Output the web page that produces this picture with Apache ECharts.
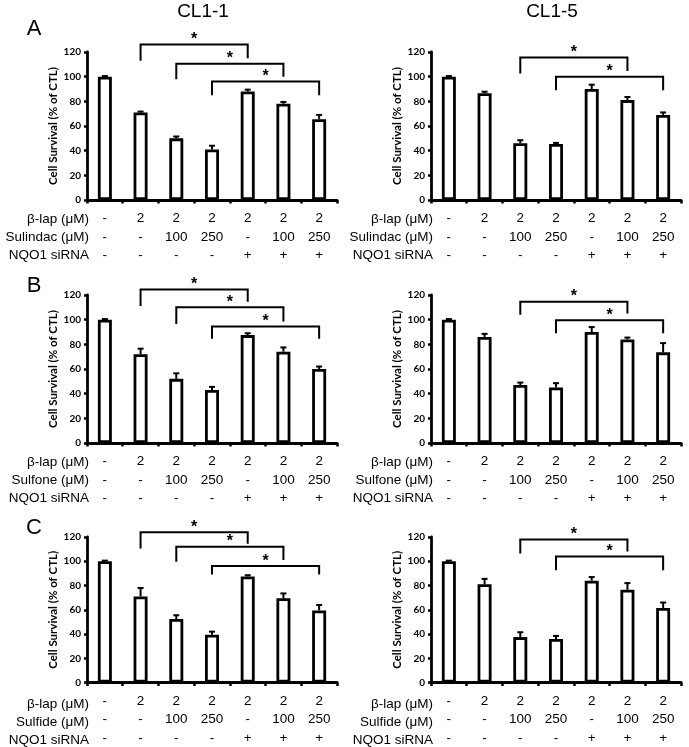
<!DOCTYPE html>
<html>
<head>
<meta charset="utf-8">
<script src="https://cdn.jsdelivr.net/npm/echarts@6/dist/echarts.min.js"></script>
<style>
  html, body { margin: 0; padding: 0; background: #fff; }
  #chart { width: 689px; height: 747px; }
</style>
</head>
<body>
<div id="chart"></div>
<script>
// condition rows under each bar
const betaLap = ['-', '2', '2', '2', '2', '2', '2'];
const drugDose = ['-', '-', '100', '250', '-', '100', '250'];
const nqo1 = ['-', '-', '-', '-', '+', '+', '+'];
const drugNames = ['Sulindac', 'Sulfone', 'Sulfide'];
const cellLines = ['CL1-1', 'CL1-5'];
const panelLetters = ['A', 'B', 'C'];
const yTicks = [0, 20, 40, 60, 80, 100, 120];

// cell survival (% of CTL) and error
const sulindacCL11 = [100, 71, 50, 41, 88, 78, 65.5];
const sulindacCL11Err = [0.5, 0.7, 1.5, 3, 1.5, 1.5, 3.5];
const sulindacCL15 = [100, 86.5, 46, 45.5, 90, 81, 69];
const sulindacCL15Err = [0.5, 1.3, 2.5, 0.8, 3.5, 2.5, 2];
const sulfoneCL11 = [100, 72, 52, 43, 87.5, 74, 60];
const sulfoneCL11Err = [0.5, 4.5, 4.5, 2.5, 1.5, 3.5, 2];
const sulfoneCL15 = [100, 86, 47, 45, 90, 84, 73.5];
const sulfoneCL15Err = [0.5, 2.5, 2, 3.5, 4, 1.5, 7.5];
const sulfideCL11 = [100, 71, 52.5, 39.5, 87.5, 69.5, 59.5];
const sulfideCL11Err = [0.5, 7, 3, 2.5, 1, 4, 4.5];
const sulfideCL15 = [100, 81, 37.5, 36, 84, 76.5, 61.5];
const sulfideCL15Err = [0.5, 4.5, 4, 2.5, 3, 5.5, 4.5];

// significance brackets: [from bar, to bar, bracket level, left leg end, right leg end]
const sulindacCL11Sig = [[1, 4, 126, 113, 115], [2, 5, 110.5, 98, 100], [3, 6, 96, 85, 85]];
const sulindacCL15Sig = [[2, 5, 115.5, 102.5, 104.5], [3, 6, 100, 89, 89]];
const sulfoneCL11Sig = [[1, 4, 124.5, 111, 114.5], [2, 5, 110, 96.5, 98.5], [3, 6, 94.5, 84.5, 84.5]];
const sulfoneCL15Sig = [[2, 5, 114.5, 104, 105], [3, 6, 99.5, 89, 89]];
const sulfideCL11Sig = [[1, 4, 124, 110.5, 114.5], [2, 5, 112, 99.5, 101], [3, 6, 96, 89, 89]];
const sulfideCL15Sig = [[2, 5, 118, 106.5, 108], [3, 6, 104, 92.5, 92.5]];

const panels = [
  [sulindacCL11, sulindacCL11Err, sulindacCL11Sig], [sulindacCL15, sulindacCL15Err, sulindacCL15Sig],
  [sulfoneCL11, sulfoneCL11Err, sulfoneCL11Sig], [sulfoneCL15, sulfoneCL15Err, sulfoneCL15Sig],
  [sulfideCL11, sulfideCL11Err, sulfideCL11Sig], [sulfideCL15, sulfideCL15Err, sulfideCL15Sig]
];

// layout
const gridLefts = [87, 431];
const gridWidth = 250;
const gridTops = [52, 295, 537];
const gridHeight = 148;

const categories = betaLap.map((b, i) => b + '\n' + drugDose[i] + '\n' + nqo1[i]);
const labelFont = 'Liberation Sans, Arial, sans-serif';

const myChart = echarts.init(document.getElementById('chart'), null, { renderer: 'canvas' });

const grid = [], xAxis = [], yAxis = [], series = [], graphic = [];

panels.forEach((p, k) => {
  const row = Math.floor(k / 2), col = k % 2;
  grid.push({ left: gridLefts[col], top: gridTops[row], width: gridWidth, height: gridHeight });
  xAxis.push({
    type: 'category', gridIndex: k, data: categories,
    axisLine: { show: true, lineStyle: { color: '#000', width: 2.8 } },
    axisTick: { show: true, length: 3.5, lineStyle: { color: '#000', width: 2.5 } },
    axisLabel: {
      interval: 0, color: '#000', fontFamily: labelFont, fontSize: 13.5, lineHeight: 18.3, margin: 9.5
    },
    splitLine: { show: false },
    z: 5
  });
  yAxis.push({
    type: 'value', gridIndex: k, min: yTicks[0], max: yTicks[yTicks.length - 1], interval: 20,
    name: 'Cell Survival (% of CTL)', nameLocation: 'middle', nameGap: 26,
    nameTextStyle: { color: '#000', fontFamily: 'Lato, sans-serif', fontWeight: 'bold', fontSize: 11.5 },
    axisLine: { show: true, lineStyle: { color: '#000', width: 2.8 } },
    axisTick: { show: true, length: 3, lineStyle: { color: '#000', width: 2.5 } },
    axisLabel: { color: '#000', fontFamily: 'Lato, sans-serif', fontWeight: 'bold', fontSize: 10, margin: 6 },
    splitLine: { show: false },
    z: 5
  });
  series.push({
    type: 'bar', xAxisIndex: k, yAxisIndex: k, data: p[0], barWidth: 14,
    itemStyle: { color: '#fff', borderColor: '#000', borderWidth: 2.8 },
    silent: true, z: 2
  });
  series.push({
    type: 'custom', xAxisIndex: k, yAxisIndex: k, clip: false, z: 3, silent: true,
    data: p[0].map((v, i) => [i, v, p[1][i]]),
    encode: { x: 0, y: 1 },
    renderItem: (params, api) => {
      const base = api.coord([api.value(0), api.value(1)]);
      const top = api.coord([api.value(0), api.value(1) + api.value(2)]);
      return {
        type: 'group', children: [
          { type: 'line', shape: { x1: base[0], y1: base[1], x2: top[0], y2: top[1] }, style: { stroke: '#000', lineWidth: 2 } },
          { type: 'line', shape: { x1: top[0] - 3, y1: top[1], x2: top[0] + 3, y2: top[1] }, style: { stroke: '#000', lineWidth: 2 } }
        ]
      };
    }
  });
  series.push({
    type: 'custom', xAxisIndex: k, yAxisIndex: k, clip: false, z: 4, silent: true,
    data: p[2],
    encode: { x: [0, 1], y: [2, 3, 4] },
    renderItem: (params, api) => {
      const a = api.coord([api.value(0), api.value(3)]);
      const b = api.coord([api.value(0), api.value(2)]);
      const c = api.coord([api.value(1), api.value(2)]);
      const d = api.coord([api.value(1), api.value(4)]);
      return {
        type: 'group', children: [
          { type: 'polyline', shape: { points: [a, b, c, d] }, style: { stroke: '#000', lineWidth: 2, fill: null } },
          { type: 'text', style: { text: '*', x: (b[0] + c[0]) / 2, y: b[1] + 3, textAlign: 'center', textVerticalAlign: 'bottom', font: 'bold 16px Liberation Sans, Arial, sans-serif', fill: '#000' } }
        ]
      };
    }
  });
  // row labels to the left of the conditions
  const axisY = gridTops[row] + gridHeight;
  const rowNames = ['\u03B2-lap (\u03BCM)', drugNames[row] + ' (\u03BCM)', 'NQO1 siRNA'];
  rowNames.forEach((t, i) => {
    graphic.push({
      type: 'text', x: gridLefts[col] + 2, y: axisY + 19 + i * 18.3,
      style: { text: t, textAlign: 'right', textVerticalAlign: 'middle', font: '13.5px ' + labelFont, fill: '#000' }
    });
  });
});

cellLines.forEach((t, c) => {
  graphic.push({
    type: 'text', x: [203, 552][c], y: 12,
    style: { text: t, textAlign: 'center', textVerticalAlign: 'middle', font: '19px ' + labelFont, fill: '#000' }
  });
});
panelLetters.forEach((t, r) => {
  graphic.push({
    type: 'text', x: 34, y: [29, 286, 528][r],
    style: { text: t, textAlign: 'center', textVerticalAlign: 'middle', font: '22px ' + labelFont, fill: '#000' }
  });
});

const option = {
  backgroundColor: '#fff',
  animation: false,
  grid, xAxis, yAxis, series, graphic
};
option && myChart.setOption(option);
</script>
</body>
</html>
